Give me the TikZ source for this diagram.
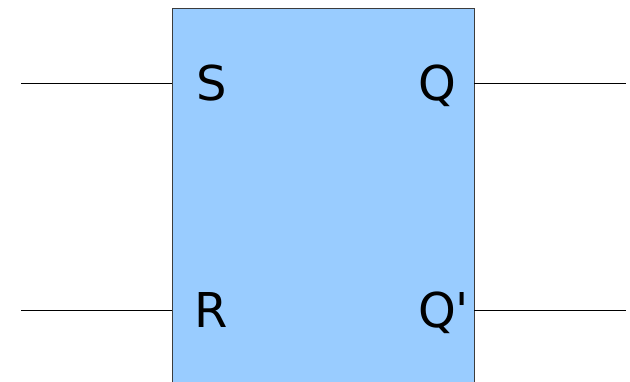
\documentclass[tikz,border=0pt]{standalone}
\usepackage{fontspec}
\setmainfont{DejaVu Sans}
% plain family without TeX ligatures, so ' stays a straight apostrophe
\newfontfamily\pinfont{DejaVu Sans}
\begin{document}
\begin{tikzpicture}[x=1pt,y=-1pt,
  wire/.style={draw=black,line width=0.8pt},
  pin/.style={font=\pinfont\fontsize{48}{48}\selectfont,inner sep=0pt,anchor=base}]
\useasboundingbox (0,0) rectangle (630,382);
% flip-flop body (runs past the lower edge)
\path[fill={rgb,255:red,153;green,204;blue,255},draw={rgb,255:red,60;green,60;blue,60},line width=0.9pt]
  (172,8) rectangle (474,400);
\coordinate (sIn) at (172,83);
\coordinate (rIn) at (172,310);
\coordinate (qOut) at (474,83);
\coordinate (qbOut) at (474,310);
\coordinate (sEnd) at (21,83);
\coordinate (rEnd) at (21,310);
\coordinate (qEnd) at (626,83);
\coordinate (qbEnd) at (626,310);
\node[pin] (S) at (212,101) {S};
\node[pin] (Q) at (437,101) {Q};
\node[pin] (R) at (211,328) {R};
\node[pin,anchor=base west] (Qb) at (418,328) {Q'};
\draw[wire] (sEnd) -- (sIn);
\draw[wire] (rEnd) -- (rIn);
\draw[wire] (qOut) -- (qEnd);
\draw[wire] (qbOut) -- (qbEnd);
\end{tikzpicture}
\end{document}
